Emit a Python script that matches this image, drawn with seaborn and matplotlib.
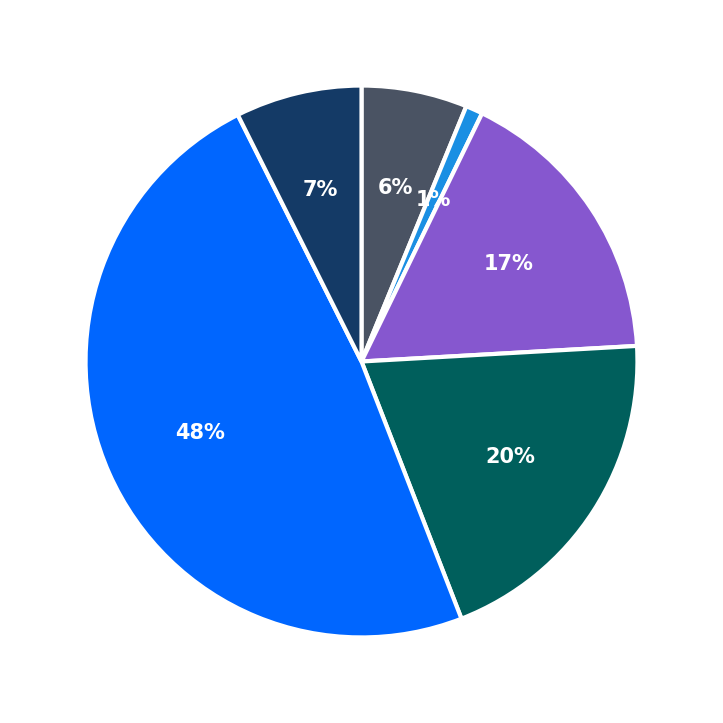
import matplotlib
matplotlib.use('Agg')
import matplotlib.pyplot as plt
import seaborn as sns

sns.set_theme(style='white')
plt.rcParams['font.family'] = ['DejaVu Sans']

# fatias no sentido horário a partir do topo
valores = [6.2, 1.0, 16.9, 20.0, 48.5, 7.4]
cores = ['#4a5363', '#1a8fe3', '#8657cf', '#005f5c', '#0066ff', '#143a66']

fig, ax = plt.subplots(figsize=(7.23, 7.23), dpi=100)
fig.subplots_adjust(0, 0, 1, 1)
wedges, textos, pcts = ax.pie(
    valores, colors=cores, startangle=90, counterclock=False,
    autopct='%1.0f%%', pctdistance=0.64,
    wedgeprops=dict(edgecolor='white', linewidth=3),
    textprops=dict(color='white', fontsize=15, fontweight='bold'))
ax.set_xlim(-1.31, 1.31)
ax.set_ylim(-1.31, 1.31)
ax.set_aspect('equal')
plt.savefig('out.png', dpi=100, facecolor='white')
